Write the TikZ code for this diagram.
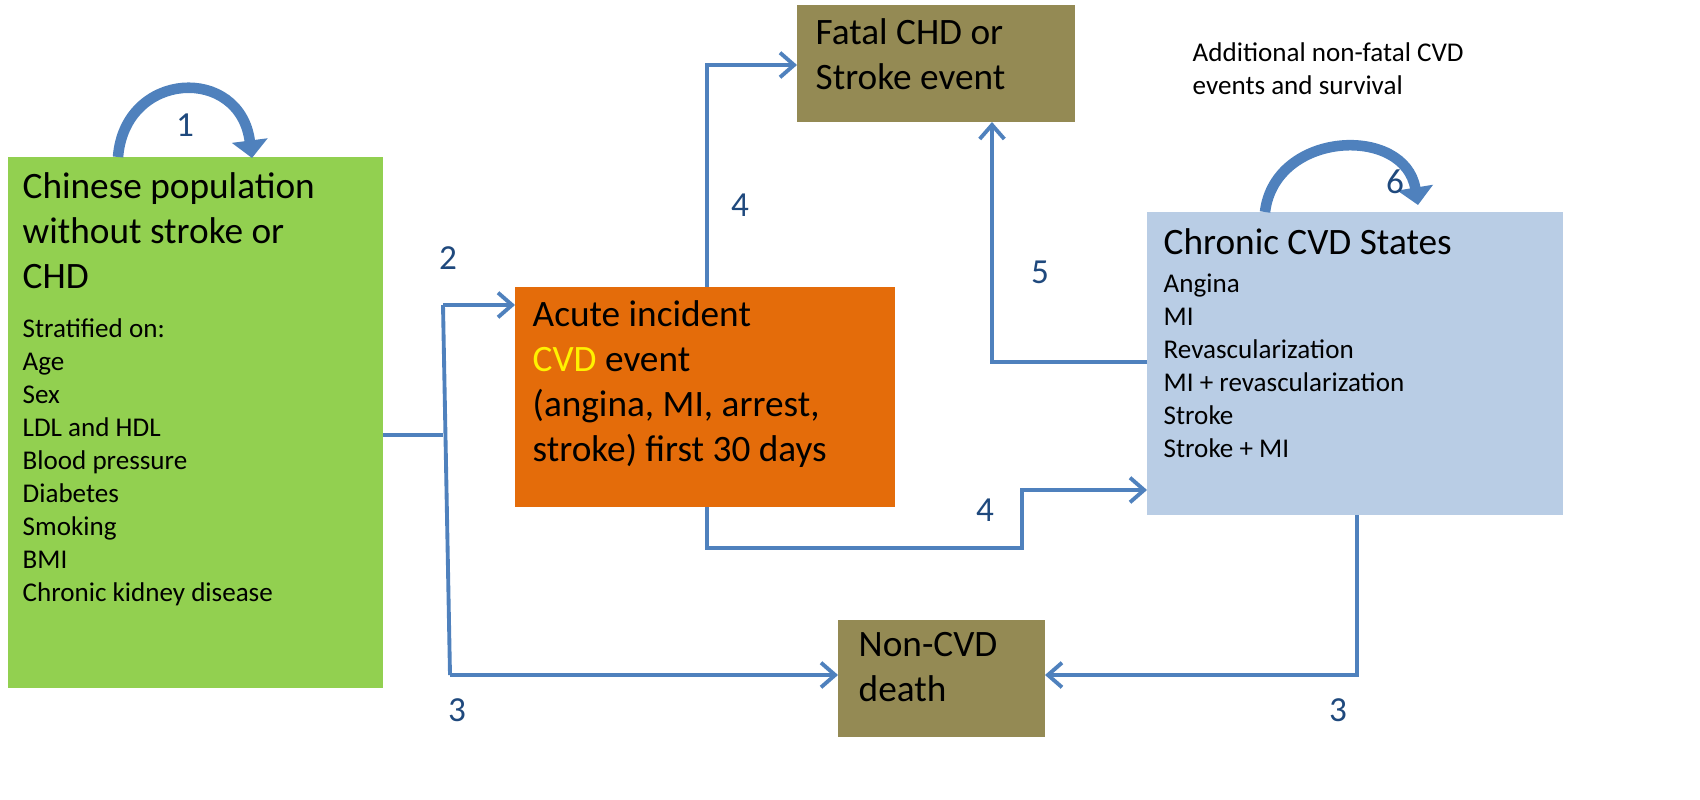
\documentclass[tikz,border=0pt]{standalone}
\usepackage{fontspec}
\setmainfont{Carlito}
\usetikzlibrary{arrows.meta,positioning}
\definecolor{boxgreen}{RGB}{146,208,80}
\definecolor{boxorange}{RGB}{228,108,10}
\definecolor{boxolive}{RGB}{148,138,84}
\definecolor{boxblue}{RGB}{185,205,229}
\definecolor{linkblue}{RGB}{79,129,189}
\definecolor{numblue}{RGB}{31,73,125}
\tikzset{
  state/.style={draw=none,inner sep=0pt,anchor=north west,align=left},
  link/.style={linkblue,line width=1.1pt,-{Straight Barb[length=4pt,width=7pt]}},
  line/.style={linkblue,line width=1.1pt},
  num/.style={numblue,font=\fontsize{10}{12}\selectfont},
  loop/.style={linkblue,line width=3pt,-{Triangle[length=5pt,width=10pt]}},
  big/.style={font=\fontsize{10.6}{12.8}\selectfont},
  small/.style={font=\fontsize{7.7}{9.4}\selectfont}
}
\begin{document}
\begin{tikzpicture}[x=0.01cm,y=-0.01cm]
\useasboundingbox (0,0) rectangle (1700,800);

% boxes
\fill[boxgreen] (8,157) rectangle (383,688);
\fill[boxorange] (515,287) rectangle (895,507);
\fill[boxolive] (797,5) rectangle (1075,122);
\fill[boxolive] (838,620) rectangle (1045,737);
\fill[boxblue] (1147,212) rectangle (1563,515);

% texts
\node[state,big] (pop) at (22,172) {Chinese population\\without stroke or\\CHD};
\node[state,small,below=8pt of pop.south west,anchor=north west] (popl) {Stratified on:\\Age\\Sex\\LDL and HDL\\Blood pressure\\Diabetes\\Smoking\\BMI\\Chronic kidney disease};
\node[state,big] (acute) at (532,300) {Acute incident\\\textcolor{yellow}{CVD} event\\(angina, MI, arrest,\\stroke) first 30 days};
\node[state,big] (fatal) at (815,18) {Fatal CHD or\\Stroke event};
\node[state,big] (noncvd) at (858,632) {Non-CVD\\death};
\node[state,big] (chronic) at (1163,228) {Chronic CVD States};
\node[state,small,below=5pt of chronic.south west,anchor=north west] (chronl) {Angina\\MI\\Revascularization\\MI + revascularization\\Stroke\\Stroke + MI};
\node[state,small] (extra) at (1192,42) {Additional non-fatal CVD\\events and survival};

% connectors
\coordinate (j1) at (443,435);
\draw[line] (383,435) -- (j1);
\draw[line] (443,305) -- (450,675);
\draw[link] (443,305) -- (515,305);
\draw[link] (450,675) -- (838,675);
\draw[link] (707,287) -- (707,65) -- (797,65);
\draw[link] (707,507) -- (707,548) -- (1022,548) -- (1022,490) -- (1147,490);
\draw[link] (1147,362) -- (992,362) -- (992,122);
\draw[link] (1357,515) -- (1357,675) -- (1045,675);

% loops
\draw[loop] (118,157) .. controls (125,70) and (240,65) .. (252,158);
\draw[loop] (1265,212) .. controls (1275,130) and (1405,125) .. (1418,205);

% numbers
\node[num] (n1) at (185,125) {1};
\node[num] (n2) at (448,258) {2};
\node[num] (n3a) at (457,710) {3};
\node[num] (n4a) at (740,205) {4};
\node[num] (n5) at (1040,272) {5};
\node[num] (n4b) at (985,510) {4};
\node[num] (n3b) at (1338,710) {3};
\node[num] (n6) at (1395,182) {6};
\end{tikzpicture}
\end{document}
